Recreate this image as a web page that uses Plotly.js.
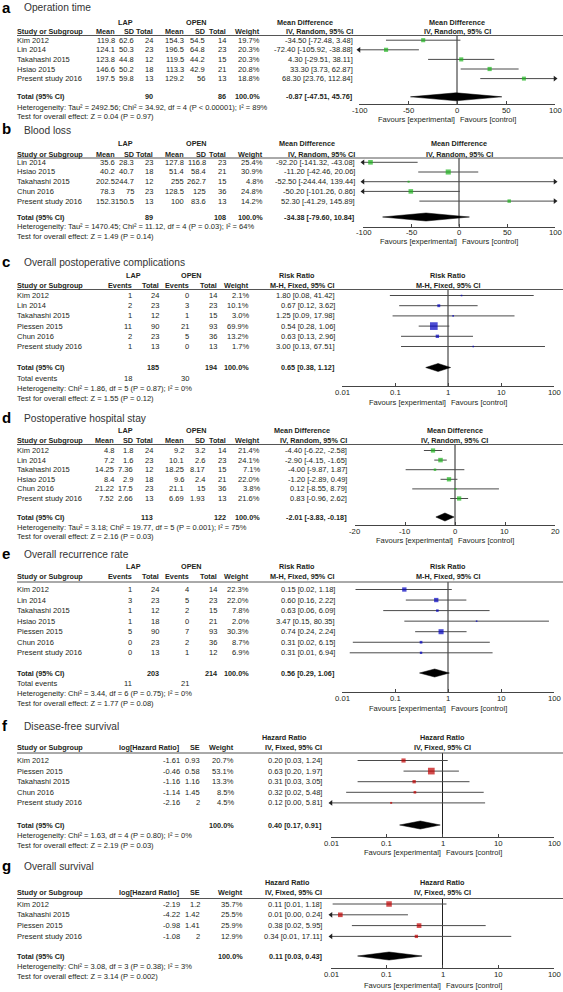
<!DOCTYPE html>
<html><head><meta charset="utf-8">
<script src="https://cdn.plot.ly/plotly-3.0.1.min.js"></script>
<style>html,body{margin:0;padding:0;background:#fff;}#chart{width:563px;height:992px;}</style>
</head><body><div id="chart"></div>
<script>
// ---------- DATA ----------
// a: Operation time
const aStudy=["Kim 2012","Lin 2014","Takahashi 2015","Hsiao 2015","Present study 2016"];
const aLapMean=[119.8,124.1,123.8,146.6,197.5];
const aLapSD=[62.6,50.3,44.8,50.2,59.8];
const aLapN=[24,23,12,18,13];
const aOpenMean=[154.3,196.5,119.5,113.3,129.2];
const aOpenSD=[54.5,64.8,44.2,42.9,56];
const aOpenN=[14,23,15,21,13];
const aWeight=[19.7,20.3,20.3,20.8,18.8];
const aEst=[-34.50,-72.40,4.30,33.30,68.30];
const aLo=[-72.48,-105.92,-29.51,3.73,23.76];
const aHi=[3.48,-38.88,38.11,62.87,112.84];
const aTotal=[-0.87,-47.51,45.76];
const aTotalN=[90,86];
const aHet="Heterogeneity: Tau² = 2492.56; Chi² = 34.92, df = 4 (P &lt; 0.00001); I² = 89%";
const aTest="Test for overall effect: Z = 0.04 (P = 0.97)";

// b: Blood loss
const bStudy=["Lin 2014","Hsiao 2015","Takahashi 2015","Chun 2016","Present study 2016"];
const bLapMean=[35.6,40.2,202.5,78.3,152.3];
const bLapSD=[28.3,40.7,244.7,75,150.5];
const bLapN=[23,18,12,23,13];
const bOpenMean=[127.8,51.4,255,128.5,100];
const bOpenSD=[116.8,58.4,262.7,125,83.6];
const bOpenN=[23,21,15,36,13];
const bWeight=[25.4,30.9,4.8,24.8,14.2];
const bEst=[-92.20,-11.20,-52.50,-50.20,52.30];
const bLo=[-141.32,-42.46,-244.44,-101.26,-41.29];
const bHi=[-43.08,20.06,139.44,0.86,145.89];
const bTotal=[-34.38,-79.60,10.84];
const bTotalN=[89,108];
const bHet="Heterogeneity: Tau² = 1470.45; Chi² = 11.12, df = 4 (P = 0.03); I² = 64%";
const bTest="Test for overall effect: Z = 1.49 (P = 0.14)";

// c: Overall postoperative complications
const cStudy=["Kim 2012","Lin 2014","Takahashi 2015","Piessen 2015","Chun 2016","Present study 2016"];
const cLapEv=[1,2,1,11,2,1];
const cLapN=[24,23,12,90,23,13];
const cOpenEv=[0,3,1,21,5,0];
const cOpenN=[14,23,15,93,36,13];
const cWeight=[2.1,10.1,3.0,69.9,13.2,1.7];
const cEst=[1.80,0.67,1.25,0.54,0.63,3.00];
const cLo=[0.08,0.12,0.09,0.28,0.13,0.13];
const cHi=[41.42,3.62,17.98,1.06,2.96,67.51];
const cTotal=[0.65,0.38,1.12];
const cTotalN=[185,194];
const cTotalEv=[18,30];
const cHet="Heterogeneity: Chi² = 1.86, df = 5 (P = 0.87); I² = 0%";
const cTest="Test for overall effect: Z = 1.55 (P = 0.12)";

// d: Postoperative hospital stay
const dStudy=["Kim 2012","Lin 2014","Takahashi 2015","Hsiao 2015","Chun 2016","Present study 2016"];
const dLapMean=[4.8,7.2,14.25,8.4,21.22,7.52];
const dLapSD=[1.8,1.6,7.36,2.9,17.5,2.66];
const dLapN=[24,23,12,18,23,13];
const dOpenMean=[9.2,10.1,18.25,9.6,21.1,6.69];
const dOpenSD=[3.2,2.6,8.17,2.4,15,1.93];
const dOpenN=[14,23,15,21,36,13];
const dWeight=[21.4,24.1,7.1,22.0,3.8,21.6];
const dEst=[-4.40,-2.90,-4.00,-1.20,0.12,0.83];
const dLo=[-6.22,-4.15,-9.87,-2.89,-8.55,-0.96];
const dHi=[-2.58,-1.65,1.87,0.49,8.79,2.62];
const dTotal=[-2.01,-3.83,-0.18];
const dTotalN=[113,122];
const dHet="Heterogeneity: Tau² = 3.18; Chi² = 19.77, df = 5 (P = 0.001); I² = 75%";
const dTest="Test for overall effect: Z = 2.16 (P = 0.03)";

// e: Overall recurrence rate
const eStudy=["Kim 2012","Lin 2014","Takahashi 2015","Hsiao 2015","Piessen 2015","Chun 2016","Present study 2016"];
const eLapEv=[1,3,1,1,5,0,0];
const eLapN=[24,23,12,18,90,23,13];
const eOpenEv=[4,5,2,0,7,2,1];
const eOpenN=[14,23,15,21,93,36,12];
const eWeight=[22.3,22.0,7.8,2.0,30.3,8.7,6.9];
const eEst=[0.15,0.60,0.63,3.47,0.74,0.31,0.31];
const eLo=[0.018,0.16,0.06,0.15,0.24,0.016,0.014];
const eHi=[1.18,2.22,6.09,80.35,2.24,6.15,6.94];
const eTotal=[0.56,0.29,1.06];
const eTotalN=[203,214];
const eTotalEv=[11,21];
const eHet="Heterogeneity: Chi² = 3.44, df = 6 (P = 0.75); I² = 0%";
const eTest="Test for overall effect: Z = 1.77 (P = 0.08)";

// f: Disease-free survival
const fStudy=["Kim 2012","Piessen 2015","Takahashi 2015","Chun 2016","Present study 2016"];
const fLogHR=[-1.61,-0.46,-1.16,-1.14,-2.16];
const fSE=[0.93,0.58,1.16,1.45,2];
const fWeight=[20.7,53.1,13.3,8.5,4.5];
const fEst=[0.20,0.63,0.31,0.32,0.12];
const fLo=[0.03,0.20,0.03,0.0187,0.0023];
const fHi=[1.24,1.97,3.05,5.48,5.81];
const fTotal=[0.40,0.17,0.91];
const fHet="Heterogeneity: Chi² = 1.63, df = 4 (P = 0.80); I² = 0%";
const fTest="Test for overall effect: Z = 2.19 (P = 0.03)";

// g: Overall survival
const gStudy=["Kim 2012","Takahashi 2015","Piessen 2015","Present study 2016"];
const gLogHR=[-2.19,-4.22,-0.98,-1.08];
const gSE=[1.2,1.42,1.41,2];
const gWeight=[35.7,25.5,25.9,12.9];
const gEst=[0.11,0.0147,0.38,0.34];
const gLo=[0.0107,0.0009,0.0237,0.0067];
const gHi=[1.18,0.24,5.95,17.11];
const gTotal=[0.11,0.03,0.43];
const gHet="Heterogeneity: Chi² = 3.08, df = 3 (P = 0.38); I² = 3%";
const gTest="Test for overall effect: Z = 3.14 (P = 0.002)";

const linTicks100=[-100,-50,0,50,100];
const linTicks20=[-20,-10,0,10,20];
const logTicks=[0.01,0.1,1,10,100];

// ---------- DRAWING ----------
const W=563,H=992;
const FONT='"Liberation Sans", Arial, sans-serif';
const TC='#231f20';
const cctx=document.createElement('canvas').getContext('2d');
function fitSize(text,target,bold){cctx.font=(bold?'bold ':'')+'40px '+FONT;return 40*target/cctx.measureText(text).width;}
const FS=fitSize('Present study 2016',65,false);
const FSB=fitSize('Study or Subgroup',66,true);
const FST=fitSize('Operation time',67,false);
const FSF=fitSize('Favours [experimental]',77,false);
const FSK=fitSize('-100',15.5,false);

const GREEN='#1db31d', BLUE='#0000c0', RED='#c00000';
const ann=[], shp=[], traces=[];
const layout={width:W,height:H,margin:{l:0,r:0,t:0,b:0},paper_bgcolor:'#fff',plot_bgcolor:'rgba(0,0,0,0)',showlegend:false,annotations:ann,shapes:shp,hovermode:false};

function T(x,y,s,anchor,bold,size,color,family){
  ann.push({xref:'paper',yref:'paper',x:x/W,y:1-y/H,text:bold?'<b>'+s+'</b>':s,showarrow:false,
    xanchor:anchor||'left',yanchor:'middle',borderpad:0,borderwidth:0,
    font:{family:family||FONT,size:size||(bold?FSB:FS),color:color||TC}});
}
const f2=v=>v.toFixed(2);
const ciText=(e,l,h)=>f2(e)+' ['+f2(l)+', '+f2(h)+']';
const pct=w=>w.toFixed(1)+'%';
const L=(s,x)=>[s,x,'left'], R=(s,x)=>[s,x,'right'], C=(s,x)=>[s,x,'center'];

function mdPanel(study,lm,ls,ln,om,os,on,w,est,lo,hi,tot,totN,c){
  return {
    h1:[C('LAP',c.lap),C('OPEN',c.open),C('Mean Difference',c.hdr)],
    h2:[L('Study or Subgroup',17),R('Mean',c.m1),R('SD',c.s1),R('Total',c.n1),R('Mean',c.m2),R('SD',c.s2),R('Total',c.n2),R('Weight',c.w),R('IV, Random, 95% CI',c.ci)],
    cells:i=>[L(study[i],17),R(String(lm[i]),c.m1),R(String(ls[i]),c.s1),R(String(ln[i]),c.n1),R(String(om[i]),c.m2),R(String(os[i]),c.s2),R(String(on[i]),c.n2),R(pct(w[i]),c.w),R(ciText(est[i],lo[i],hi[i]),c.ci)],
    totalCells:[L('Total (95% CI)',17),R(String(totN[0]),c.n1),R(String(totN[1]),c.n2),R('100.0%',c.w),R(ciText(tot[0],tot[1],tot[2]),c.ci)],
    ph1:'Mean Difference',ph2:'IV, Random, 95% CI',
    est:est,lo:lo,hi:hi,w:w,tot:tot,n:study.length
  };
}
function rrPanel(study,le,ln,oe,on,w,est,lo,hi,tot,totN,totEv,c){
  return {
    h1:[C('LAP',c.lap),C('OPEN',c.open),C('Risk Ratio',c.hdr)],
    h2:[L('Study or Subgroup',17),R('Events',c.e1),R('Total',c.n1),R('Events',c.e2),R('Total',c.n2),R('Weight',c.w),R('M-H, Fixed, 95% CI',c.ci)],
    cells:i=>[L(study[i],17),R(String(le[i]),c.e1),R(String(ln[i]),c.n1),R(String(oe[i]),c.e2),R(String(on[i]),c.n2),R(pct(w[i]),c.w),R(ciText(est[i],lo[i],hi[i]),c.ci)],
    totalCells:[L('Total (95% CI)',17),R(String(totN[0]),c.n1),R(String(totN[1]),c.n2),R('100.0%',c.w),R(ciText(tot[0],tot[1],tot[2]),c.ci)],
    evCells:[L('Total events',17),R(String(totEv[0]),c.e1),R(String(totEv[1]),c.e2)],
    ph1:'Risk Ratio',ph2:'M-H, Fixed, 95% CI',
    est:est,lo:lo,hi:hi,w:w,tot:tot,n:study.length
  };
}
function hrPanel(study,lhr,se,w,est,lo,hi,tot,c){
  return {
    h1:[C('Hazard Ratio',c.hdr)],
    h2:[L('Study or Subgroup',17),R('log[Hazard Ratio]',c.l),R('SE',c.se),R('Weight',c.w),R('IV, Fixed, 95% CI',c.ci)],
    cells:i=>[L(study[i],17),R(String(lhr[i]),c.l),R(String(se[i]),c.se),R(pct(w[i]),c.w),R(ciText(est[i],lo[i],hi[i]),c.ci)],
    totalCells:[L('Total (95% CI)',17),R('100.0%',c.w),R(ciText(tot[0],tot[1],tot[2]),c.ci)],
    ph1:'Hazard Ratio',ph2:'IV, Fixed, 95% CI',
    est:est,lo:lo,hi:hi,w:w,tot:tot,n:study.length
  };
}

function drawPanel(k,P,G){
  Object.assign(P,G);
  const sfx=k===1?'':String(k);
  const Y=P.y, isLog=P.type==='log';
  T(1.5,Y.title-1,P.letter,'left',true,15,'#000');
  T(24,Y.title,P.title,'left',false,FST,'#333');
  P.h1.forEach(c=>T(c[1],Y.h1,c[0],c[2],true));
  P.h2.forEach(c=>T(c[1],Y.h2,c[0],c[2],true));
  shp.push({type:'line',xref:'paper',yref:'paper',x0:17/W,x1:1,y0:1-Y.line/H,y1:1-Y.line/H,line:{color:'#555',width:1}});
  for(let i=0;i<P.n;i++) P.cells(i).forEach(c=>T(c[1],Y.row0+i*Y.pitch,c[0],c[2],false));
  P.totalCells.forEach(c=>T(c[1],Y.total,c[0],c[2],true));
  if(P.evCells) P.evCells.forEach(c=>T(c[1],Y.totEv,c[0],c[2],false));
  T(17,Y.het,P.het,'left'); T(17,Y.test,P.test,'left');
  const cx=(P.dom[0]+P.dom[1])/2;
  T(cx,Y.h1,P.ph1,'center',true); T(cx,Y.h2,P.ph2,'center',true);
  const tickY=Y.axis+6.2, favY=Math.max(Y.fav,tickY+8.8);
  T(cx-2,favY,'Favours [experimental]','right',false,FSF);
  T(cx+3,favY,'Favours [control]','left',false,FSF);
  const xa='x'+sfx, ya='y'+sfx;
  P.ticks.forEach(v=>ann.push({xref:xa,yref:'paper',x:isLog?Math.log10(v):v,y:1-tickY/H,text:String(v),showarrow:false,
    xanchor:'center',yanchor:'middle',borderpad:0,font:{family:FONT,size:FSK,color:TC}}));

  const yTop=(Y.line-Y.row0)/Y.pitch, yBot=(Y.axis-Y.row0)/Y.pitch, tIdx=(Y.total-Y.row0)/Y.pitch;
  layout['xaxis'+sfx]={domain:[P.dom[0]/W,P.dom[1]/W],type:P.type,range:isLog?P.range.map(Math.log10):P.range.slice(),
    anchor:'y'+sfx,showgrid:false,zeroline:false,showline:true,linecolor:'#444',linewidth:1,
    ticks:'inside',ticklen:3,tickwidth:1,tickcolor:'#444',tickmode:'array',tickvals:P.ticks,showticklabels:false,fixedrange:true};
  layout['yaxis'+sfx]={domain:[1-Y.axis/H,1-Y.line/H],range:[yBot,yTop],anchor:'x'+sfx,visible:false,fixedrange:true};
  traces.push({type:'scatter',mode:'lines',xaxis:xa,yaxis:ya,x:[P.nullValue,P.nullValue],y:[yTop,yBot],line:{color:'#222',width:1},hoverinfo:'skip'});
  const lx=[],ly=[],ax=[],ay=[],as=[];
  for(let i=0;i<P.n;i++){
    lx.push(P.lo[i],P.hi[i],null); ly.push(i,i,null);
    if(P.lo[i]<P.range[0]){ax.push(P.range[0]);ay.push(i);as.push('triangle-left');}
    if(P.hi[i]>P.range[1]){ax.push(P.range[1]);ay.push(i);as.push('triangle-right');}
  }
  traces.push({type:'scatter',mode:'lines',xaxis:xa,yaxis:ya,x:lx,y:ly,line:{color:'#4a4a4a',width:1},hoverinfo:'skip'});
  if(ax.length) traces.push({type:'scatter',mode:'markers',xaxis:xa,yaxis:ya,x:ax,y:ay,cliponaxis:false,
    marker:{symbol:as,size:5,color:'#222',line:{width:0}},hoverinfo:'skip'});
  traces.push({type:'scatter',mode:'markers',xaxis:xa,yaxis:ya,x:P.est,y:P.est.map((v,i)=>i),cliponaxis:false,
    marker:{symbol:'square',size:P.w.map(w=>Math.max(1.6,0.92*Math.sqrt(w))),color:P.color,line:{width:0}},hoverinfo:'skip'});
  const dh=4/Y.pitch;
  traces.push({type:'scatter',mode:'lines',xaxis:xa,yaxis:ya,fill:'toself',fillcolor:'#000',
    x:[P.tot[1],P.tot[0],P.tot[2],P.tot[0],P.tot[1]],y:[tIdx,tIdx-dh,tIdx,tIdx+dh,tIdx],line:{color:'#000',width:0.5},hoverinfo:'skip'});
}

const mdColsA={m1:115,s1:134,n1:153,m2:184,s2:205,n2:226,w:260,ci:353,lap:125,open:196,hdr:305};
const mdColsB={m1:115,s1:134,n1:153,m2:184,s2:206,n2:226,w:263,ci:355,lap:125,open:196,hdr:307};
const mdColsD={m1:114,s1:133,n1:153,m2:184,s2:205,n2:226,w:260,ci:347,lap:125,open:196,hdr:302};
const rrCols={e1:132,n1:159,e2:189,n2:217,w:249,ci:335,lap:133,open:191,hdr:297};
const hrColsF={l:180,se:200,w:234,ci:322,hdr:284};
const hrColsG={l:180,se:200,w:243,ci:322,hdr:287};

drawPanel(1,mdPanel(aStudy,aLapMean,aLapSD,aLapN,aOpenMean,aOpenSD,aOpenN,aWeight,aEst,aLo,aHi,aTotal,aTotalN,mdColsA),
  {letter:'a',title:'Operation time',het:aHet,test:aTest,type:'linear',range:[-100,100],ticks:linTicks100,dom:[359,555],nullValue:0,color:GREEN,
   y:{title:8,h1:22,h2:31,line:35.5,row0:40.2,pitch:9.6,total:96.8,het:107,test:117,axis:104.3,fav:118.7}});
drawPanel(2,mdPanel(bStudy,bLapMean,bLapSD,bLapN,bOpenMean,bOpenSD,bOpenN,bWeight,bEst,bLo,bHi,bTotal,bTotalN,mdColsB),
  {letter:'b',title:'Blood loss',het:bHet,test:bTest,type:'linear',range:[-100,100],ticks:linTicks100,dom:[363,555],nullValue:0,color:GREEN,
   y:{title:130,h1:144,h2:154,line:158,row0:162.3,pitch:9.7,total:217,het:226.5,test:236,axis:226.7,fav:241}});
drawPanel(3,rrPanel(cStudy,cLapEv,cLapN,cOpenEv,cOpenN,cWeight,cEst,cLo,cHi,cTotal,cTotalN,cTotalEv,rrCols),
  {letter:'c',title:'Overall postoperative complications',het:cHet,test:cTest,type:'log',range:[0.01,100],ticks:logTicks,dom:[342,554],nullValue:1,color:BLUE,
   y:{title:262,h1:275.5,h2:285,line:289.5,row0:295.5,pitch:10.2,total:367.5,totEv:378.5,het:388.5,test:398.5,axis:386,fav:402}});
drawPanel(4,mdPanel(dStudy,dLapMean,dLapSD,dLapN,dOpenMean,dOpenSD,dOpenN,dWeight,dEst,dLo,dHi,dTotal,dTotalN,mdColsD),
  {letter:'d',title:'Postoperative hospital stay',het:dHet,test:dTest,type:'linear',range:[-20,20],ticks:linTicks20,dom:[355,555],nullValue:0,color:GREEN,
   y:{title:418,h1:430,h2:440,line:444.5,row0:450.5,pitch:9.6,total:517,het:527,test:536,axis:525,fav:540}});
drawPanel(5,rrPanel(eStudy,eLapEv,eLapN,eOpenEv,eOpenN,eWeight,eEst,eLo,eHi,eTotal,eTotalN,eTotalEv,rrCols),
  {letter:'e',title:'Overall recurrence rate',het:eHet,test:eTest,type:'log',range:[0.01,100],ticks:logTicks,dom:[342,554],nullValue:1,color:BLUE,
   y:{title:554,h1:566,h2:576,line:582,row0:589.5,pitch:10.55,total:673,totEv:683,het:693,test:703,axis:692,fav:708}});
drawPanel(6,hrPanel(fStudy,fLogHR,fSE,fWeight,fEst,fLo,fHi,fTotal,hrColsF),
  {letter:'f',title:'Disease-free survival',het:fHet,test:fTest,type:'log',range:[0.01,100],ticks:logTicks,dom:[331,554],nullValue:1,color:RED,
   y:{title:726,h1:737,h2:747,line:753,row0:760.5,pitch:10.6,total:825,het:835,test:845,axis:837,fav:852}});
drawPanel(7,hrPanel(gStudy,gLogHR,gSE,gWeight,gEst,gLo,gHi,gTotal,hrColsG),
  {letter:'g',title:'Overall survival',het:gHet,test:gTest,type:'log',range:[0.01,100],ticks:logTicks,dom:[331,554],nullValue:1,color:RED,
   y:{title:866,h1:882.5,h2:892.5,line:898.5,row0:904,pitch:10.8,total:956,het:966.5,test:976.5,axis:968,fav:985}});

Plotly.newPlot('chart',traces,layout,{displayModeBar:false,staticPlot:true});
</script></body></html>
